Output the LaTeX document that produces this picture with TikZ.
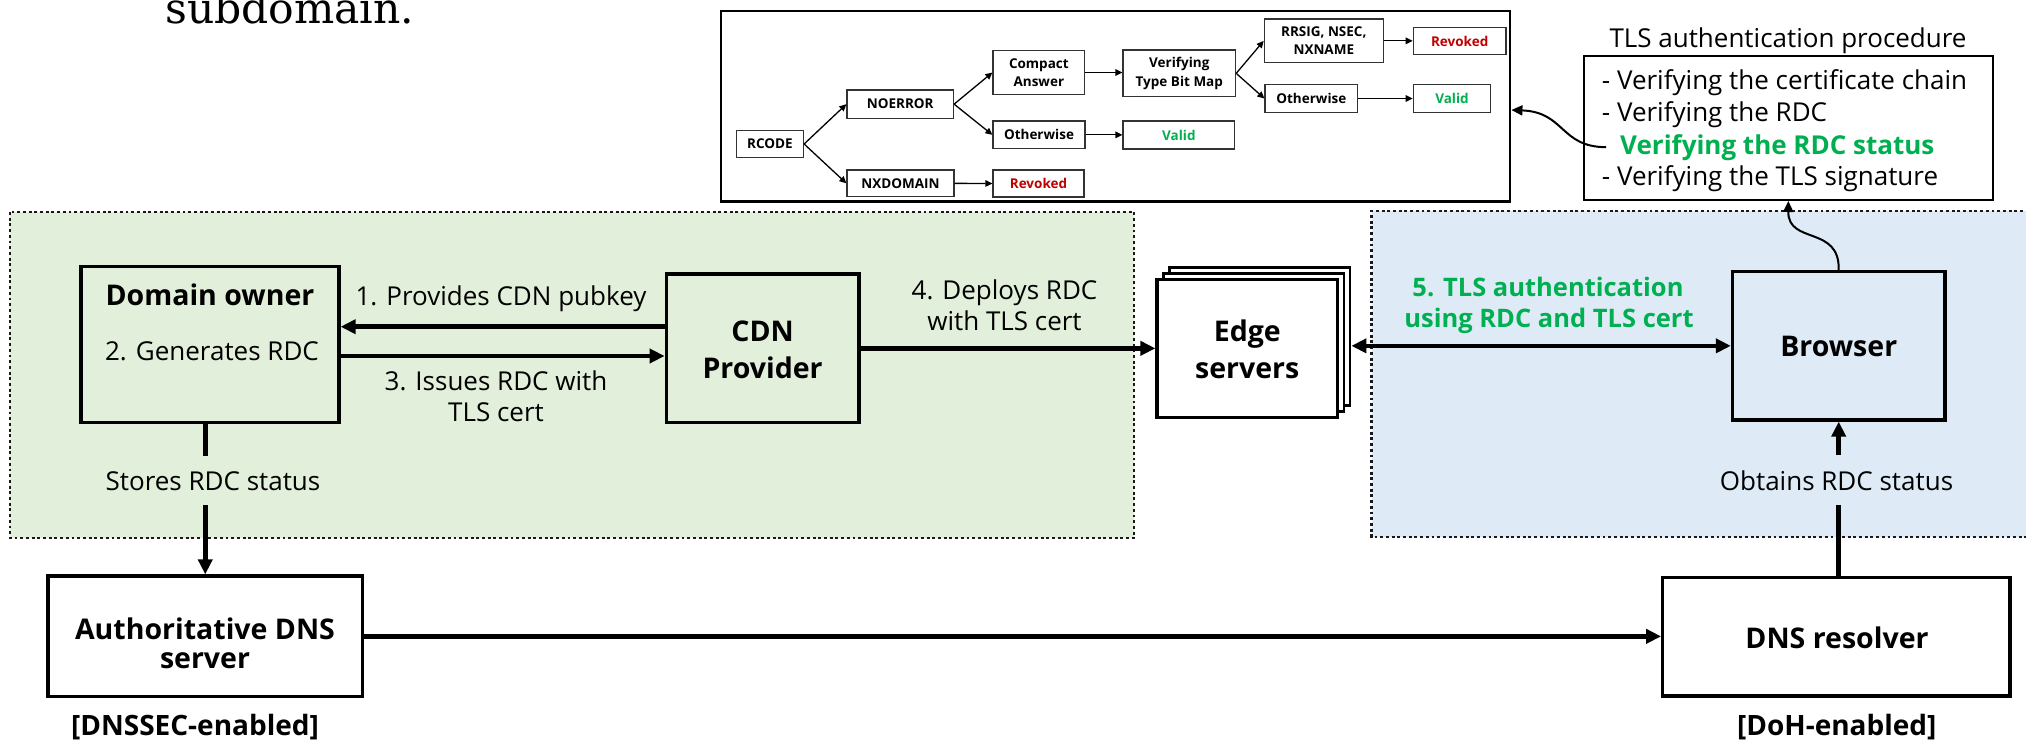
\documentclass[tikz,border=0pt]{standalone}
\usepackage{fontspec}
\newfontfamily\osans{Open Sans}
\newfontfamily\dserif{DejaVu Serif}
\usetikzlibrary{arrows.meta}
\definecolor{gfill}{HTML}{E2EFDA}
\definecolor{bfill}{HTML}{DEEBF7}
\definecolor{tgreen}{HTML}{00B050}
\definecolor{tred}{HTML}{C00000}
\begin{document}
\begin{tikzpicture}[x=1pt,y=-1pt,
  region/.style={draw=black!90, line width=2.9pt, dash pattern=on 2.9pt off 2.8pt},
  mbox/.style={draw, line width=3.2pt, inner sep=0pt},
  bl/.style={inner sep=0pt, anchor=base, font=\osans\bfseries\fontsize{28.5}{34}\selectfont},
  rl/.style={inner sep=0pt, anchor=base, font=\osans\fontsize{26}{31}\selectfont},
  gl/.style={inner sep=0pt, anchor=base, text=tgreen, font=\osans\bfseries\fontsize{25.5}{31}\selectfont},
  bigline/.style={line width=4.6pt},
  bigarrow/.style={line width=4.6pt, -{Triangle[length=15pt,width=14pt]}},
  bigdarrow/.style={line width=4.6pt, {Triangle[length=15pt,width=14pt]}-{Triangle[length=15pt,width=14pt]}},
  fbox/.style={draw=black!80, line width=1.2pt, fill=white, inner sep=0pt, align=center, font=\osans\bfseries\fontsize{13.5}{18.5}\selectfont},
  farrow/.style={line width=1.3pt, -{Triangle[length=7pt,width=6.5pt]}},
  tarrow/.style={line width=2pt, -{Triangle[length=11pt,width=10pt]}},
]
\useasboundingbox (0,0) rectangle (2026,741);

% regions
\fill[gfill] (10,212) rectangle (1134,538);
\draw[region] (10,212) rectangle (1134,538);
\fill[bfill] (1371.5,211) rectangle (2040,537);
\draw[region] (2040,211) -- (1371.5,211) -- (1371.5,537) -- (2040,537);

% top text
\node[anchor=base west, inner sep=0pt, font=\dserif\fontsize{42.5}{50}\selectfont] (subd) at (165,24) {subdomain.};

% flowchart
\node[draw, line width=2.8pt, minimum width=789pt, minimum height=190.7pt, inner sep=0pt] (fc) at (1115.5,106.35) {};
\node[fbox, minimum width=67pt, minimum height=26.6pt] (rcode) at (770,144) {RCODE};
\node[fbox, minimum width=106.5pt, minimum height=28.3pt] (noerr) at (900.25,104.15) {NOERROR};
\node[fbox, minimum width=107pt, minimum height=26.7pt] (nxd) at (900.5,183.35) {NXDOMAIN};
\node[fbox, minimum width=91pt, minimum height=27pt, text=tred] (rev1) at (1038.5,183.5) {Revoked};
\node[fbox, minimum width=91.7pt, minimum height=43.6pt] (compact) at (1038.85,72.5) {Compact\\Answer};
\node[fbox, minimum width=92pt, minimum height=27.7pt] (oth1) at (1039,134.85) {Otherwise};
\node[fbox, minimum width=111.7pt, minimum height=28pt, text=tgreen] (valid1) at (1178.85,135) {Valid};
\node[fbox, minimum width=112.6pt, minimum height=46.7pt] (tbm) at (1179.3,73.35) {Verifying\\Type Bit Map};
\node[fbox, minimum width=119pt, minimum height=43.7pt] (rrsig) at (1323.8,40.85) {RRSIG, NSEC,\\NXNAME};
\node[fbox, minimum width=92.7pt, minimum height=28.4pt] (oth2) at (1311.35,98.5) {Otherwise};
\node[fbox, minimum width=92.7pt, minimum height=26.6pt, text=tred] (rev2) at (1459.65,41) {Revoked};
\node[fbox, minimum width=77.4pt, minimum height=28.4pt, text=tgreen] (valid2) at (1452,98.5) {Valid};
\draw[farrow] (rcode.east) -- (noerr.west);
\draw[farrow] (rcode.east) -- (nxd.west);
\draw[farrow] (noerr.east) -- (compact.west);
\draw[farrow] (noerr.east) -- (oth1.west);
\draw[farrow] (nxd.east) -- (rev1.west);
\draw[farrow] (compact.east) -- (compact.east -| tbm.west);
\draw[farrow] (oth1.east) -- (oth1.east -| valid1.west);
\draw[farrow] (tbm.east) -- (rrsig.west);
\draw[farrow] (tbm.east) -- (oth2.west);
\draw[farrow] (rrsig.east) -- (rrsig.east -| rev2.west);
\draw[farrow] (oth2.east) -- (oth2.east -| valid2.west);

% TLS procedure box
\node[draw, line width=2pt, fill=white, minimum width=408.7pt, minimum height=144pt, inner sep=0pt] (tls) at (1788.35,128) {};
\node[rl] (tlstitle) at (1788,48) {TLS authentication procedure};
\node[rl, anchor=base west] (tl1) at (1601.7,90) {- Verifying the certificate chain};
\node[rl, anchor=base west] (tl2) at (1601.7,121.7) {- Verifying the RDC};
\node[gl, anchor=base west, font=\osans\bfseries\fontsize{26}{31}\selectfont] (tl3) at (1620,154) {Verifying the RDC status};
\node[rl, anchor=base west] (tl4) at (1601.7,185.3) {- Verifying the TLS signature};
\draw[tarrow] ([xshift=-14pt]tl3.west) .. controls (1560,147) and (1565,112) .. ([yshift=-3.65pt]fc.east);

% main boxes
\node[mbox, fill=gfill, minimum width=258pt, minimum height=155.6pt] (do) at (210,344.5) {};
\node[bl] (tdo) at (210,305) {Domain owner};
\node[rl] (tgen) at (212,360) {2. Generates RDC};

\node[mbox, fill=gfill, minimum width=192.8pt, minimum height=148.7pt] (cdn) at (762.6,348.35) {};
\node[bl] (tcdn1) at (762.6,341.7) {CDN};
\node[bl] (tcdn2) at (762.6,378.3) {Provider};

\node[draw, line width=2.6pt, fill=white, minimum width=180.5pt, minimum height=138pt, inner sep=0pt] (edge3) at (1259.85,336.3) {};
\node[draw, line width=2.6pt, fill=white, minimum width=180.5pt, minimum height=138pt, inner sep=0pt] (edge2) at (1253.55,342.3) {};
\node[mbox, fill=white, minimum width=180.5pt, minimum height=138pt] (edge) at (1247.25,348.3) {};
\node[bl] (tedge1) at (1247.25,341.7) {Edge};
\node[bl] (tedge2) at (1247.25,378.3) {servers};

\node[mbox, fill=bfill, minimum width=212.6pt, minimum height=148.3pt] (browser) at (1838.7,345.85) {};
\node[bl] (tbr) at (1838.7,356.7) {Browser};

\node[mbox, fill=white, minimum width=314.5pt, minimum height=120.7pt] (auth) at (205.25,636.35) {};
\node[bl] (tauth1) at (205,639.3) {Authoritative DNS};
\node[bl] (tauth2) at (205,668.3) {server};

\node[mbox, fill=white, minimum width=347.3pt, minimum height=118.7pt] (dnsres) at (1836.35,636.65) {};
\node[bl] (tdns) at (1837,648.3) {DNS resolver};

\node[bl, font=\osans\bfseries\fontsize{28}{34}\selectfont] (cap1) at (195,735) {[DNSSEC-enabled]};
\node[bl, font=\osans\bfseries\fontsize{28}{34}\selectfont] (cap2) at (1836.7,735) {[DoH-enabled]};

% edge labels
\node[rl] (l1) at (501,305) {1. Provides CDN pubkey};
\node[rl] (l3a) at (496,390) {3. Issues RDC with};
\node[rl] (l3b) at (496,421.7) {TLS cert};
\node[rl] (l4a) at (1004.5,299) {4. Deploys RDC};
\node[rl] (l4b) at (1004.5,330) {with TLS cert};
\node[gl] (l5a) at (1548,296.7) {5. TLS authentication};
\node[gl] (l5b) at (1549,327.7) {using RDC and TLS cert};
\node[rl] (stores) at (213,490) {Stores RDC status};
\node[rl] (obtains) at (1836.5,490) {Obtains RDC status};

% connectors
\coordinate (a1s) at ([yshift=21.65pt]cdn.west);
\draw[bigarrow] (a1s) -- (a1s -| do.east);
\coordinate (a3s) at ([yshift=-11.5pt]do.east);
\draw[bigarrow] (a3s) -- (a3s -| cdn.west);
\draw[bigarrow] (cdn.east) -- (cdn.east -| edge.west);
\draw[bigdarrow] (browser.west) -- (browser.west -| edge3.east);
\coordinate (s1) at (auth.north |- stores.north);
\coordinate (s2) at (auth.north |- stores.south);
\draw[bigline] (auth.north |- do.south) -- ([yshift=15pt]s1);
\draw[bigarrow] ([yshift=-15pt]s2) -- (auth.north);
\coordinate (o1) at (browser.south |- obtains.north);
\coordinate (o2) at (browser.south |- obtains.south);
\draw[bigarrow] ([yshift=15pt]o1) -- (browser.south);
\draw[bigline] (browser.south |- dnsres.north) -- ([yshift=-15pt]o2);
\draw[bigarrow] (auth.east) -- (auth.east -| dnsres.west);
\draw[tarrow] (browser.north) .. controls (1840,225) and (1788,245) .. (tls.south);
\end{tikzpicture}
\end{document}
